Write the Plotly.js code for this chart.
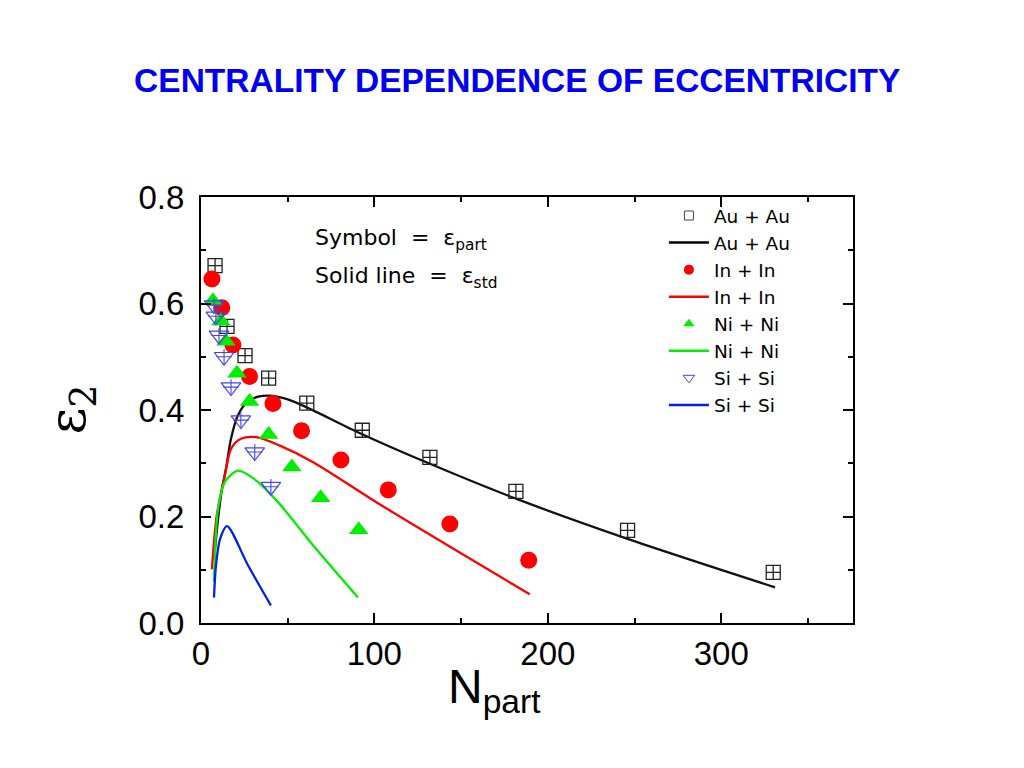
<!DOCTYPE html>
<html>
<head>
<meta charset="utf-8">
<script src="https://cdn.plot.ly/plotly-3.0.1.min.js"></script>
<style>html,body{margin:0;padding:0;background:#fff;}#chart{width:1024px;height:768px;}</style>
</head>
<body>
<div id="chart"></div>
<script>
// ---- data ----
var auNpart = [8.1, 15, 25.4, 39, 61, 93, 132, 181.6, 246, 330];
var auEpsPart = [0.671, 0.557, 0.502, 0.460, 0.413, 0.362, 0.311, 0.247, 0.174, 0.095];
var inNpart = [6.3, 12, 18.4, 28, 41.5, 58, 80.7, 108, 143.5, 189];
var inEpsPart = [0.646, 0.592, 0.522, 0.463, 0.412, 0.361, 0.306, 0.250, 0.186, 0.118];
var niNpart = [6.9, 11.5, 14.4, 20.7, 28, 39, 52.4, 69, 91];
var niEpsPart = [0.605, 0.567, 0.529, 0.469, 0.416, 0.354, 0.293, 0.235, 0.175];
var siNpart = [7.5, 8.6, 10.4, 13.3, 17.3, 23, 31, 40.3];
var siEpsPart = [0.597, 0.576, 0.540, 0.500, 0.443, 0.381, 0.321, 0.256];

var auLineN = [7.5, 10, 12, 14.4, 17.3, 21.3, 27, 33, 40, 50, 61, 92, 132, 182, 246, 331];
var auEpsStd = [0.12, 0.20, 0.25, 0.29, 0.346, 0.39, 0.416, 0.425, 0.427, 0.42, 0.405, 0.356, 0.299, 0.233, 0.158, 0.067];
var inLineN = [6.3, 9, 13.8, 17.3, 23, 32, 45.5, 64.7, 103, 189.6];
var inEpsStd = [0.101, 0.20, 0.277, 0.327, 0.346, 0.349, 0.333, 0.302, 0.223, 0.054];
var niLineN = [7.5, 9.8, 13.8, 21.3, 30, 44.4, 64.6, 90.5];
var niEpsStd = [0.078, 0.214, 0.265, 0.286, 0.272, 0.227, 0.146, 0.048];
var siLineN = [7.5, 8.6, 11, 15, 27, 40.3];
var siEpsStd = [0.048, 0.107, 0.158, 0.182, 0.109, 0.033];

var legendLabels = ["Au + Au", "In + In", "Ni + Ni", "Si + Si"];
var xTicks = [0, 100, 200, 300];
var yTicks = [0.0, 0.2, 0.4, 0.6, 0.8];
var yTickText = ["0.0", "0.2", "0.4", "0.6", "0.8"];

var FONT = "Arial, 'Liberation Sans', sans-serif";
var WIDE = "'DejaVu Sans', Arial, sans-serif";
var cAu = "#111111", cIn = "#ff0000", cNi = "#00ee00", cSi = "#0022dd", cSiSym = "#4444ee";

var traces = [];
function line(x, y, c) {
  return {x: x, y: y, type: "scatter", mode: "lines", showlegend: false, hoverinfo: "skip",
          line: {color: c, width: 2.3, shape: "spline", smoothing: 0.8}};
}
traces.push(line(auLineN, auEpsStd, cAu));
traces.push(line(inLineN, inEpsStd, cIn));
traces.push(line(niLineN, niEpsStd, cNi));
traces.push(line(siLineN, siEpsStd, cSi));

traces.push({x: auNpart, y: auEpsPart, type: "scatter", mode: "markers", showlegend: false,
  marker: {symbol: "square-cross-open", size: 14, color: "#222", line: {width: 1.3}}});
traces.push({x: inNpart, y: inEpsPart, type: "scatter", mode: "markers", showlegend: false,
  marker: {symbol: "circle", size: 17, color: cIn}});
traces.push({x: niNpart, y: niEpsPart, type: "scatter", mode: "markers", showlegend: false,
  marker: {symbol: "triangle-up", size: 17, color: cNi}});
traces.push({x: siNpart, y: siEpsPart, type: "scatter", mode: "markers", showlegend: false,
  marker: {symbol: "triangle-down-open", size: 17, color: cSiSym, line: {width: 1.2}}});
traces.push({x: siNpart, y: siEpsPart, type: "scatter", mode: "markers", showlegend: false, hoverinfo: "skip",
  marker: {symbol: "cross-thin-open", size: 11, color: cSiSym, line: {width: 1.1, color: cSiSym}}});

// legend-only entries
function legM(name, sym, c, sz, open) {
  var m = {symbol: sym, size: sz, color: c};
  if (open) m.line = {width: 1, color: c};
  return {x: [null], y: [null], type: "scatter", mode: "markers", name: name, marker: m};
}
function legL(name, c) {
  return {x: [null], y: [null], type: "scatter", mode: "lines", name: name, line: {color: c, width: 2.5}};
}
traces.push(legM(legendLabels[0], "square-open", "#444", 9, true));
traces.push(legL(legendLabels[0], "#000"));
traces.push(legM(legendLabels[1], "circle", cIn, 10, false));
traces.push(legL(legendLabels[1], cIn));
traces.push(legM(legendLabels[2], "triangle-up", cNi, 10, false));
traces.push(legL(legendLabels[2], cNi));
traces.push(legM(legendLabels[3], "triangle-down-open", cSiSym, 10, true));
traces.push(legL(legendLabels[3], cSi));

var axisCommon = {
  showline: true, linecolor: "#000", linewidth: 2, mirror: "ticks",
  ticks: "inside", ticklen: 10, tickwidth: 2, tickcolor: "#000",
  showgrid: false, zeroline: false,
  tickfont: {family: FONT, size: 33, color: "#000"},
  minor: {ticks: "inside", ticklen: 5, tickwidth: 2, tickcolor: "#000", showgrid: false}
};

var layout = {
  width: 1024, height: 768,
  margin: {l: 201, r: 171, t: 197, b: 145},
  paper_bgcolor: "#fff", plot_bgcolor: "#fff",
  showlegend: true,
  title: {text: "<b>CENTRALITY DEPENDENCE OF ECCENTRICITY</b>",
          font: {family: FONT, size: 33.5, color: "#0000ee"},
          x: 0.485, xanchor: "center", xref: "paper", y: 0.896, yref: "container", yanchor: "middle"},
  xaxis: Object.assign({}, axisCommon, {range: [0, 376], tickvals: xTicks, ticktext: xTicks.map(String),
          minor: Object.assign({}, axisCommon.minor, {dtick: 50, tick0: 0})}),
  yaxis: Object.assign({}, axisCommon, {range: [0, 0.8], tickvals: yTicks, ticktext: yTickText,
          ticklabelstandoff: 8,
          minor: Object.assign({}, axisCommon.minor, {dtick: 0.1, tick0: 0})}),
  legend: {x: 0.71, xanchor: "left", y: 1.0, yanchor: "top", bgcolor: "rgba(0,0,0,0)",
           font: {family: WIDE, size: 18.5, color: "#000"}, tracegroupgap: 0, itemwidth: 40},
  annotations: [
    {xref: "paper", yref: "paper", x: 0.172, y: 0.9, xanchor: "left", yanchor: "middle", showarrow: false,
     text: "Symbol  =  ε<sub>part</sub>", font: {family: WIDE, size: 22, color: "#000"}},
    {xref: "paper", yref: "paper", x: 0.172, y: 0.81, xanchor: "left", yanchor: "middle", showarrow: false,
     text: "Solid line  =  ε<sub>std</sub>", font: {family: WIDE, size: 22, color: "#000"}},
    {xref: "paper", yref: "paper", x: 0.45, y: -0.083, xanchor: "center", yanchor: "top", showarrow: false,
     text: "N<sub>part</sub>", font: {family: FONT, size: 48, color: "#000"}},
    {xref: "paper", yref: "paper", x: -0.2, y: 0.5, xanchor: "center", yanchor: "middle", showarrow: false,
     textangle: -90, text: "ε<sub>2</sub>", font: {family: "'DejaVu Serif', 'Liberation Serif', serif", size: 52, color: "#000"}}
  ]
};

Plotly.newPlot("chart", traces, layout, {displayModeBar: false, staticPlot: true});
</script>
</body>
</html>
